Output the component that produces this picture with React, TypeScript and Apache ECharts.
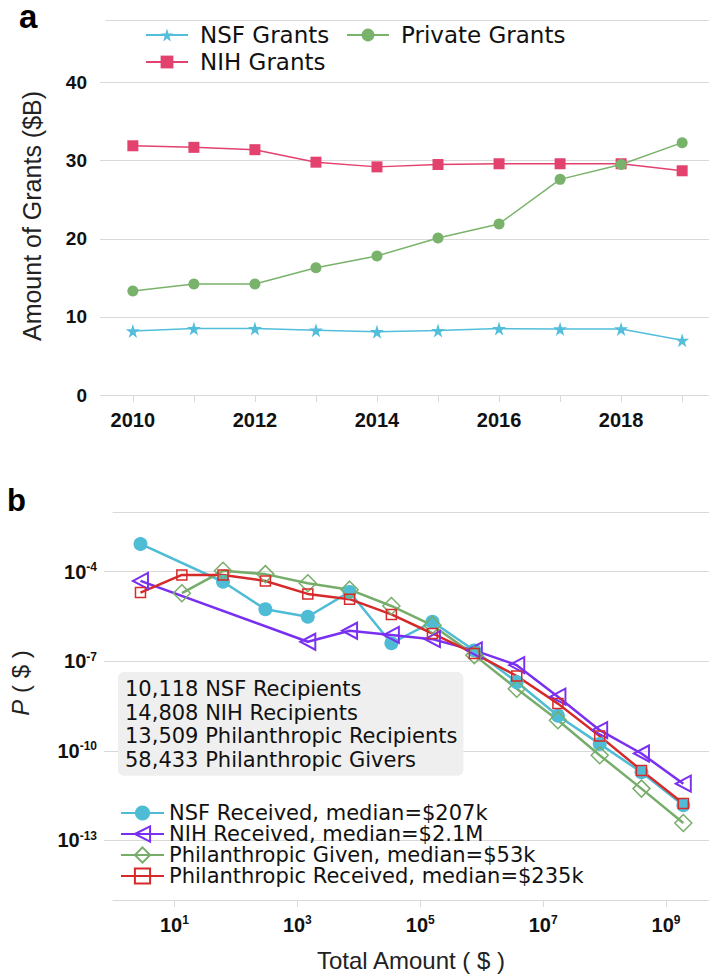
import { useEffect, useRef } from 'react';
import * as echarts from 'echarts';

// panel a
const years = [2010, 2011, 2012, 2013, 2014, 2015, 2016, 2017, 2018, 2019];
const yearLabels = [2010, 2012, 2014, 2016, 2018];
const nsfGrants = [8.2, 8.5, 8.5, 8.3, 8.1, 8.25, 8.5, 8.45, 8.45, 7.0];
const nihGrants = [31.9, 31.7, 31.4, 29.8, 29.2, 29.5, 29.6, 29.6, 29.6, 28.7];
const privateGrants = [13.3, 14.2, 14.2, 16.3, 17.8, 20.1, 21.9, 27.6, 29.5, 32.3];
const grantTicks = [0, 10, 20, 30, 40];

// panel b (log bins, null = no point)
const amounts = [2.8, 13.2, 61.7, 302, 1480, 7080, 33900, 158000, 759000, 3.72e6, 1.74e7, 8.32e7, 3.98e8, 1.91e9];
const nsfReceived = [8.5e-4, null, 4.6e-5, 5.5e-6, 3.1e-6, 2.1e-5, 4.0e-7, 2.1e-6, 2.3e-7, 2.0e-8, 1.5e-9, 1.7e-10, 1.9e-11, 1.5e-12];
const nihReceived = [4.9e-5, null, null, null, 4.5e-7, 1.05e-6, 7.6e-7, 5.5e-7, 2.3e-7, 7.4e-8, 6.5e-9, 4.9e-10, 8.1e-11, 7.9e-12];
const philGiven = [null, 1.9e-5, 1.07e-4, 8.3e-5, 4.1e-5, 2.5e-5, 7.1e-6, 1.6e-6, 1.6e-7, 1.2e-8, 1.05e-9, 7.1e-11, 5.4e-12, 3.8e-13];
const philReceived = [2.0e-5, 7.8e-5, 7.8e-5, 4.9e-5, 1.8e-5, 1.2e-5, 3.7e-6, 8.5e-7, 1.8e-7, 3.2e-8, 3.8e-9, 3.1e-10, 2.2e-11, 1.7e-12];
const amountTicks = [10, 1e3, 1e5, 1e7, 1e9];
const probTicks = [1e-13, 1e-10, 1e-7, 1e-4];
const counts = [
  '10,118 NSF Recipients',
  '14,808 NIH Recipients',
  '13,509 Philanthropic Recipients',
  '58,433 Philanthropic Givers',
];

const GRID = '#d9d9d9';
const TICK_FONT = 'Liberation Sans, Arial, sans-serif';
const TEXT_FONT = 'DejaVu Sans, sans-serif';

const STAR = 'path://M50,0 L61,35 L98,35 L68,57 L79,91 L50,70 L21,91 L32,57 L2,35 L39,35 Z';
const LEFT_TRI = 'path://M0,50 L100,0 L100,100 Z';

const pairs = (xs: number[], ys: (number | null)[]) =>
  xs.map((x, i) => [x, ys[i]]).filter((p) => p[1] !== null);

const powLabel = (v: number) => `{b|10}{s|${Math.round(Math.log10(v))}}`;
const powRich = {
  b: { fontSize: 20, fontWeight: 'bold', fontFamily: TICK_FONT, color: '#111' },
  s: { fontSize: 12, fontWeight: 'bold', fontFamily: TICK_FONT, color: '#111', padding: [0, 0, 9, 0] },
};

export default function App() {
  const chartRef = useRef<HTMLDivElement>(null);

  useEffect(() => {
    if (!chartRef.current) return;
    const chart = echarts.init(chartRef.current, null, { renderer: 'svg' });

    const openSymbol = (color: string, width: number) => ({
      color: 'rgba(255,255,255,0)',
      borderColor: color,
      borderWidth: width,
    });

    const option: any = {
      animation: false,
      title: [
        {
          text: counts.join('\n'),
          left: 118,
          top: 672,
          backgroundColor: '#efefef',
          borderRadius: 6,
          padding: [5, 6, 4, 7],
          textStyle: { fontSize: 21, lineHeight: 23.7, fontFamily: TEXT_FONT, fontWeight: 'normal', color: '#111' },
        },
      ],
      graphic: [
        {
          type: 'text',
          left: 19,
          top: 0,
          style: { text: 'a', fontSize: 33, lineHeight: 22, fontWeight: 'bold', fontFamily: TICK_FONT, fill: '#000' },
        },
        {
          type: 'text',
          left: 7,
          top: 485,
          style: { text: 'b', fontSize: 31, fontWeight: 'bold', fontFamily: TICK_FONT, fill: '#000' },
        },
      ],
      legend: [
        {
          data: ['NSF Grants', 'NIH Grants'],
          orient: 'vertical',
          left: 145,
          top: 23.5,
          padding: 0,
          itemWidth: 42,
          itemHeight: 16,
          itemGap: 4,
          textStyle: { fontSize: 23, lineHeight: 23, fontFamily: TEXT_FONT, color: '#111', padding: [0, 0, 0, 7] },
        },
        {
          data: ['Private Grants'],
          orient: 'vertical',
          left: 346,
          top: 23.5,
          padding: 0,
          itemWidth: 42,
          itemHeight: 16,
          textStyle: { fontSize: 23, lineHeight: 23, fontFamily: TEXT_FONT, color: '#111', padding: [0, 0, 0, 7] },
        },
        {
          data: [
            'NSF Received, median=$207k',
            'NIH Received, median=$2.1M',
            'Philanthropic Given, median=$53k',
            'Philanthropic Received, median=$235k',
          ],
          orient: 'vertical',
          left: 120,
          top: 802.5,
          padding: 0,
          itemWidth: 43,
          itemHeight: 19,
          itemGap: 0,
          textStyle: { fontSize: 21, lineHeight: 21, fontFamily: TEXT_FONT, color: '#111' },
        },
      ],
      grid: [
        { left: 106, right: 0, top: 20, height: 375 },
        { left: 107, right: 0, top: 512, height: 388 },
      ],
      xAxis: [
        {
          type: 'value',
          gridIndex: 0,
          min: 2009.56,
          max: 2019.44,
          axisLine: { show: true, lineStyle: { color: GRID } },
          axisTick: { show: true, length: 7, customValues: years, lineStyle: { color: GRID } },
          axisLabel: {
            customValues: yearLabels,
            formatter: (v: number) => String(v),
            margin: 15,
            fontSize: 20,
            fontWeight: 'bold',
            fontFamily: TICK_FONT,
            color: '#111',
          },
          splitLine: { show: false },
        },
        {
          type: 'value',
          gridIndex: 0,
          position: 'top',
          axisLine: { show: true, onZero: false, lineStyle: { color: GRID } },
          axisTick: { show: false },
          axisLabel: { show: false },
          splitLine: { show: false },
        },
        {
          type: 'log',
          logBase: 10,
          gridIndex: 1,
          min: 1,
          max: 5e9,
          name: 'Total Amount ( $ )',
          nameLocation: 'middle',
          nameGap: 48,
          nameTextStyle: { fontSize: 24, fontFamily: TICK_FONT, color: '#222' },
          axisLine: { show: true, lineStyle: { color: GRID } },
          axisTick: { show: true, length: 7, customValues: amountTicks, lineStyle: { color: GRID } },
          axisLabel: { customValues: amountTicks, margin: 14, formatter: powLabel, rich: powRich },
          splitLine: { show: false },
        },
        {
          type: 'value',
          gridIndex: 1,
          position: 'top',
          axisLine: { show: true, onZero: false, lineStyle: { color: GRID } },
          axisTick: { show: false },
          axisLabel: { show: false },
          splitLine: { show: false },
        },
      ],
      yAxis: [
        {
          type: 'value',
          gridIndex: 0,
          min: 0,
          max: 48,
          name: 'Amount of Grants ($B)',
          nameLocation: 'middle',
          nameGap: 62,
          nameTextStyle: { fontSize: 25, fontFamily: TICK_FONT, color: '#222', padding: [0, 17, 0, 0] },
          axisLine: { show: false },
          axisTick: { show: true, length: 6, customValues: grantTicks, lineStyle: { color: GRID } },
          axisLabel: {
            customValues: grantTicks,
            margin: 19,
            fontSize: 19,
            fontWeight: 'bold',
            fontFamily: TICK_FONT,
            color: '#111',
          },
          splitLine: { show: true, lineStyle: { color: GRID, width: 1 } },
        },
        {
          type: 'log',
          logBase: 10,
          gridIndex: 1,
          min: 1e-15,
          max: 1e-2,
          name: '{i|P} ( $ )',
          nameLocation: 'middle',
          nameGap: 81,
          nameTextStyle: {
            fontSize: 24,
            fontFamily: TICK_FONT,
            color: '#222',
            padding: [0, 0, 0, 46],
            rich: { i: { fontSize: 24, fontStyle: 'italic', fontFamily: TICK_FONT, color: '#222' } },
          },
          axisLine: { show: false },
          axisTick: { show: true, length: 9, customValues: probTicks, lineStyle: { color: GRID } },
          axisLabel: { customValues: probTicks, margin: 16, formatter: powLabel, rich: powRich },
          splitLine: { show: true, lineStyle: { color: GRID, width: 1 } },
        },
      ],
      series: [
        {
          name: 'NSF Grants',
          type: 'line',
          xAxisIndex: 0,
          yAxisIndex: 0,
          data: pairs(years, nsfGrants),
          symbol: STAR,
          symbolSize: 14,
          itemStyle: { color: '#52bedb' },
          lineStyle: { color: '#52bedb', width: 1.5 },
        },
        {
          name: 'NIH Grants',
          type: 'line',
          xAxisIndex: 0,
          yAxisIndex: 0,
          data: pairs(years, nihGrants),
          symbol: 'rect',
          symbolSize: 11,
          itemStyle: { color: '#e2426d' },
          lineStyle: { color: '#e2426d', width: 1.5 },
        },
        {
          name: 'Private Grants',
          type: 'line',
          xAxisIndex: 0,
          yAxisIndex: 0,
          data: pairs(years, privateGrants),
          symbol: 'circle',
          symbolSize: 11,
          itemStyle: { color: '#79b36b' },
          lineStyle: { color: '#79b36b', width: 1.5 },
        },
        {
          name: 'NSF Received, median=$207k',
          type: 'line',
          xAxisIndex: 2,
          yAxisIndex: 1,
          data: pairs(amounts, nsfReceived),
          symbol: 'circle',
          symbolSize: 14,
          itemStyle: { color: '#4fbcd6' },
          lineStyle: { color: '#4fbcd6', width: 2.5 },
        },
        {
          name: 'NIH Received, median=$2.1M',
          type: 'line',
          xAxisIndex: 2,
          yAxisIndex: 1,
          data: pairs(amounts, nihReceived),
          symbol: LEFT_TRI,
          symbolSize: [15, 16],
          itemStyle: openSymbol('#7a30f0', 2),
          lineStyle: { color: '#7a30f0', width: 2.5 },
        },
        {
          name: 'Philanthropic Given, median=$53k',
          type: 'line',
          xAxisIndex: 2,
          yAxisIndex: 1,
          data: pairs(amounts, philGiven),
          symbol: 'diamond',
          symbolSize: 17,
          itemStyle: openSymbol('#77ad6a', 1.5),
          lineStyle: { color: '#77ad6a', width: 2.5 },
        },
        {
          name: 'Philanthropic Received, median=$235k',
          type: 'line',
          xAxisIndex: 2,
          yAxisIndex: 1,
          data: pairs(amounts, philReceived),
          symbol: 'rect',
          symbolSize: 10,
          itemStyle: openSymbol('#d62a2a', 1.5),
          lineStyle: { color: '#d62a2a', width: 2.5 },
        },
      ],
    };

    chart.setOption(option);
    return () => {
      chart.dispose();
    };
  }, []);

  return (
    <div
      ref={chartRef}
      style={{ position: 'fixed', left: 0, top: 0, width: '709px', height: '975px', background: '#fff' }}
    />
  );
}
